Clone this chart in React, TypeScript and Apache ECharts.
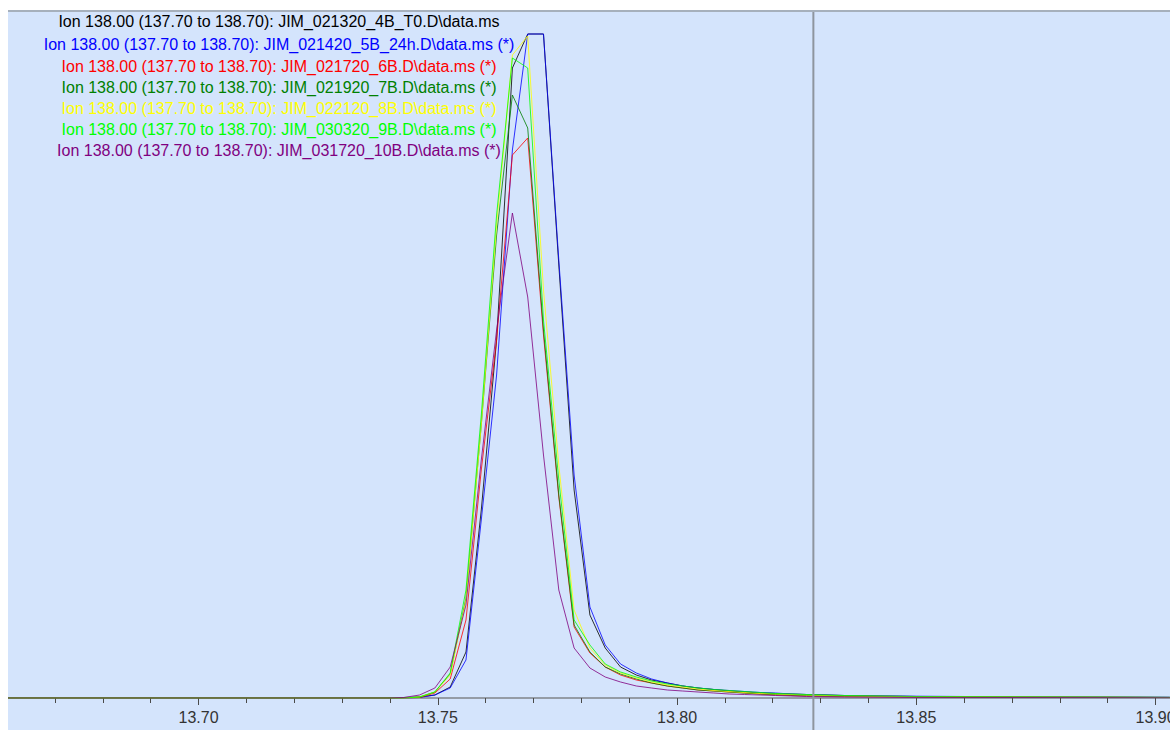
import React, { useEffect, useRef } from "react";
import * as echarts from "echarts";

// Retention time (min) of each scan
const scanTimes = [
  13.6602, 13.7397, 13.7429, 13.7462, 13.7494, 13.7526, 13.7559, 13.7591, 13.7623, 13.7656,
  13.7688, 13.7721, 13.7753, 13.7785, 13.7818, 13.785, 13.7882, 13.7915, 13.7947, 13.798,
  13.8012, 13.8044, 13.8077, 13.8109, 13.8141, 13.8174, 13.8206, 13.8238, 13.8271, 13.835,
  13.85, 13.87, 13.89, 13.903,
];

// Ion 138.00 abundance (arbitrary units) per run
const run4B_T0 = [
  0, 0, 0.5, 1, 3, 11, 46, 188, 358, 630, 664, 664, 433, 208, 83, 50, 31, 23, 18, 15,
  12, 10, 8.5, 7, 6, 5, 4.5, 4, 3.5, 2.5, 1.5, 1, 0.8, 0.6,
];
const run5B_24h = [
  0, 0, 0, 0.5, 3, 10, 38, 178, 323, 548, 664, 664, 438, 223, 91, 53, 34, 25, 19, 15,
  12, 10, 8.5, 7.5, 6.5, 5.5, 5, 4, 3.5, 2.5, 1.8, 1.2, 1, 0.8,
];
const run6B = [
  0, 0, 0, 0.5, 5, 19, 78, 228, 358, 543, 560, 363, 201, 71, 45, 31, 23, 18, 15, 12,
  10, 8, 7, 6, 5, 4, 3, 2.5, 2, 1.5, 1, 0.8, 0.6, 0.5,
];
const run7B = [
  0, 0, 0, 1, 6, 24, 100, 273, 463, 603, 570, 368, 203, 73, 46, 31, 24, 19, 15, 12,
  10, 8, 7, 6, 5, 4, 3.5, 3, 2.5, 1.8, 1.2, 0.9, 0.7, 0.5,
];
const run8B = [
  0, 0, 0, 1, 6, 23, 98, 273, 473, 643, 662, 408, 233, 88, 50, 33, 25, 20, 16, 13,
  11, 9, 7.5, 6.5, 5.5, 4.5, 4, 3.5, 3, 2, 1.4, 1, 0.8, 0.6,
];
const run9B = [
  0, 0, 0, 1, 6, 25, 108, 283, 483, 640, 630, 378, 218, 78, 53, 34, 26, 21, 17, 14,
  12, 10, 8.5, 7.5, 6.5, 5.5, 4.5, 4, 3.5, 2.5, 1.5, 1, 0.8, 0.6,
];
const run10B = [
  0, 0, 0.5, 3, 10, 31, 93, 238, 368, 485, 401, 243, 108, 50, 30, 21, 16, 12, 10, 8,
  7, 6, 5, 4, 3.5, 3, 2.5, 2, 1.5, 1, 0.7, 0.5, 0.4, 0.3,
];

const runs = [run4B_T0, run5B_24h, run6B, run7B, run8B, run9B, run10B];

const traceLabels = [
  "Ion 138.00 (137.70 to 138.70): JIM_021320_4B_T0.D\\data.ms",
  "Ion 138.00 (137.70 to 138.70): JIM_021420_5B_24h.D\\data.ms (*)",
  "Ion 138.00 (137.70 to 138.70): JIM_021720_6B.D\\data.ms (*)",
  "Ion 138.00 (137.70 to 138.70): JIM_021920_7B.D\\data.ms (*)",
  "Ion 138.00 (137.70 to 138.70): JIM_022120_8B.D\\data.ms (*)",
  "Ion 138.00 (137.70 to 138.70): JIM_030320_9B.D\\data.ms (*)",
  "Ion 138.00 (137.70 to 138.70): JIM_031720_10B.D\\data.ms (*)",
];

const traceColors = ["#000000", "#0000ff", "#ff0000", "#008000", "#ffff00", "#00ff00", "#800080"];

const cursorTime = 13.8285;
const xMin = 13.65;
const xMax = 13.90303;
const yMax = 688;
const firstLabelledTick = 13.7;

export default function App() {
  const ref = useRef<HTMLDivElement>(null);

  useEffect(() => {
    const chart = echarts.init(ref.current!, null, { renderer: "svg" });
    const font = '"Liberation Sans", Arial, sans-serif';

    const series = runs.map((vals, i) => ({
      type: "line",
      name: traceLabels[i],
      data: vals.map((v, j) => [scanTimes[j], v]),
      showSymbol: false,
      symbol: "none",
      lineStyle: { color: traceColors[i], width: 1, opacity: 0.8 },
      itemStyle: { color: traceColors[i] },
      z: 2 + i * 0.01,
    }));

    chart.setOption({
      animation: false,
      backgroundColor: "#ffffff",
      grid: {
        left: -40.75,
        right: 0,
        top: 10,
        bottom: 32,
        containLabel: false,
        outerBoundsMode: "none",
      },
      xAxis: {
        type: "value",
        min: xMin,
        max: xMax,
        interval: 0.05,
        axisLine: { show: true, lineStyle: { color: "#959ca6", width: 2 } },
        axisTick: { show: true, length: 7, lineStyle: { color: "#4a4a4a", width: 1 } },
        minorTick: { show: true, splitNumber: 5, length: 5, lineStyle: { color: "#4a4a4a", width: 1 } },
        splitLine: { show: false },
        axisLabel: {
          show: true,
          margin: 11,
          color: "#333333",
          fontFamily: font,
          fontSize: 16,
          hideOverlap: false,
          formatter: (v: number) => (v < firstLabelledTick - 0.001 ? "" : v.toFixed(2)),
        },
      },
      yAxis: {
        type: "value",
        min: 0,
        max: yMax,
        show: false,
        splitLine: { show: false },
      },
      series,
    });

    const cx = chart.convertToPixel({ xAxisIndex: 0 }, cursorTime) as number;
    const legendY = [21, 44, 66, 87, 108, 129, 150];

    chart.setOption({
      graphic: [
        {
          type: "rect",
          z: -100,
          silent: true,
          shape: { x: 8, y: 10, width: 1162, height: 720 },
          style: { fill: "#d4e4fc" },
        },
        {
          type: "rect",
          z: 100,
          silent: true,
          shape: { x: 8, y: 10, width: 1162, height: 2 },
          style: { fill: "#a6b0bc" },
        },
        {
          type: "rect",
          z: 100,
          silent: true,
          shape: { x: 0, y: 0, width: 8, height: 730 },
          style: { fill: "#ffffff" },
        },
        {
          type: "line",
          z: 90,
          silent: true,
          shape: { x1: cx, y1: 12, x2: cx, y2: 730 },
          style: { stroke: "#8e959e", lineWidth: 2 },
        },
        ...traceLabels.map((t, i) => ({
          type: "text",
          z: 80,
          silent: true,
          x: 279,
          y: legendY[i],
          style: {
            text: t,
            fill: traceColors[i],
            font: `16px ${font}`,
            align: "center",
            verticalAlign: "middle",
            textAlign: "center",
            textVerticalAlign: "middle",
          },
        })),
      ],
    });

    return () => chart.dispose();
  }, []);

  return (
    <div
      ref={ref}
      style={{ position: "fixed", left: 0, top: 0, width: 1170, height: 730 }}
    />
  );
}
